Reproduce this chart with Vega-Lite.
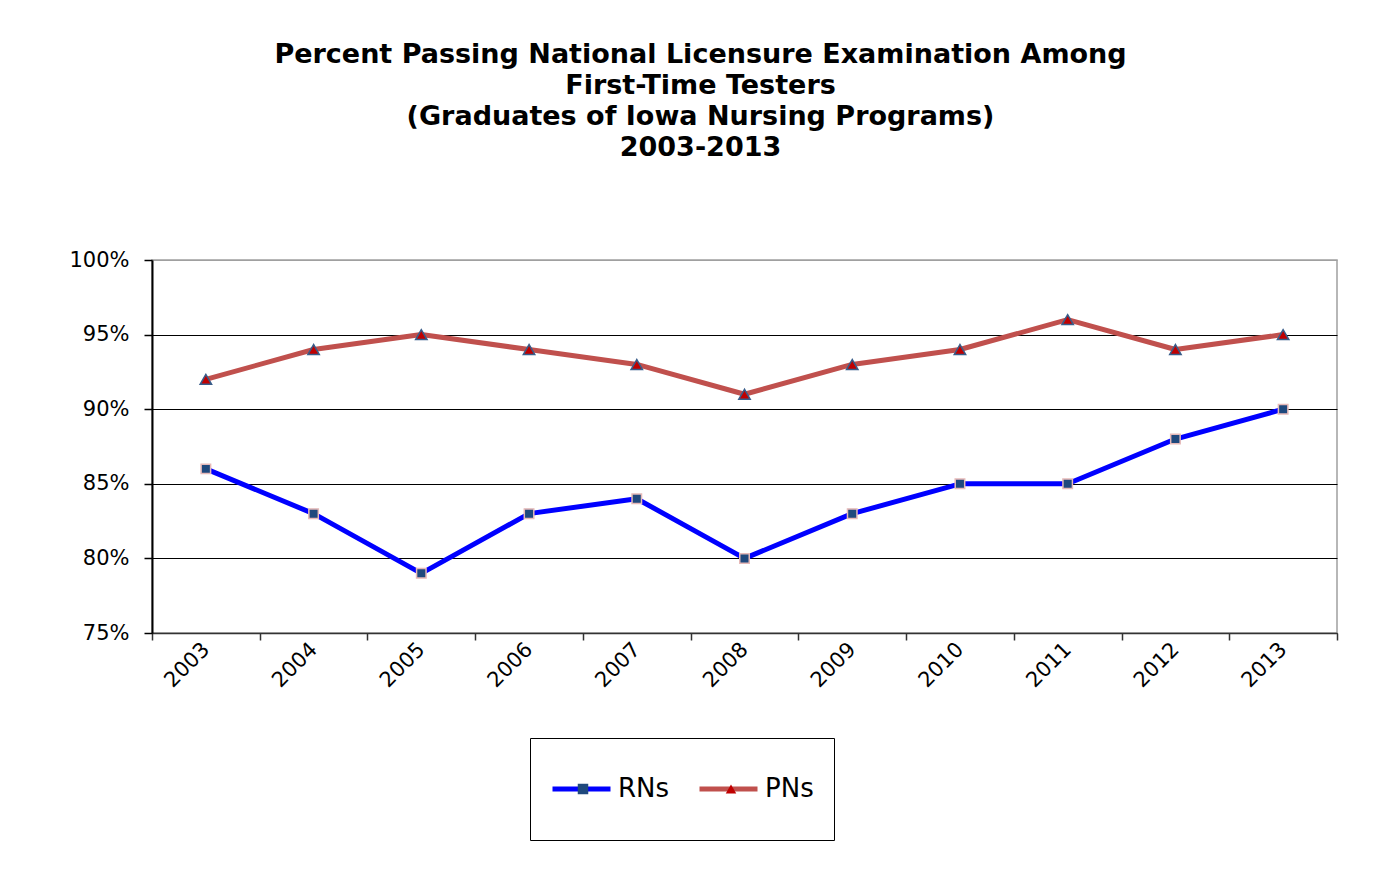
{
  "$schema": "https://vega.github.io/schema/vega-lite/v6.json",
  "width": 1185,
  "height": 373,
  "autosize": {"type": "none"},
  "padding": {"left": 152, "top": 260, "right": 45, "bottom": 243},
  "background": "white",
  "config": {
    "view": {"stroke": "#a0a0a0", "strokeWidth": 1.5},
    "font": "DejaVu Sans"
  },
  "title": {
    "text": ["Percent Passing National Licensure Examination Among", "First-Time Testers", "(Graduates of Iowa Nursing Programs)", "2003-2013"],
    "font": "DejaVu Sans",
    "fontSize": 27,
    "fontWeight": "bold",
    "lineHeight": 31,
    "color": "black",
    "anchor": "middle",
    "dx": -44,
    "offset": 87
  },
  "data": {
    "values": [
      {"year": "2003", "series": "RNs", "pct": 0.86},
      {"year": "2004", "series": "RNs", "pct": 0.83},
      {"year": "2005", "series": "RNs", "pct": 0.79},
      {"year": "2006", "series": "RNs", "pct": 0.83},
      {"year": "2007", "series": "RNs", "pct": 0.84},
      {"year": "2008", "series": "RNs", "pct": 0.80},
      {"year": "2009", "series": "RNs", "pct": 0.83},
      {"year": "2010", "series": "RNs", "pct": 0.85},
      {"year": "2011", "series": "RNs", "pct": 0.85},
      {"year": "2012", "series": "RNs", "pct": 0.88},
      {"year": "2013", "series": "RNs", "pct": 0.90},
      {"year": "2003", "series": "PNs", "pct": 0.92},
      {"year": "2004", "series": "PNs", "pct": 0.94},
      {"year": "2005", "series": "PNs", "pct": 0.95},
      {"year": "2006", "series": "PNs", "pct": 0.94},
      {"year": "2007", "series": "PNs", "pct": 0.93},
      {"year": "2008", "series": "PNs", "pct": 0.91},
      {"year": "2009", "series": "PNs", "pct": 0.93},
      {"year": "2010", "series": "PNs", "pct": 0.94},
      {"year": "2011", "series": "PNs", "pct": 0.96},
      {"year": "2012", "series": "PNs", "pct": 0.94},
      {"year": "2013", "series": "PNs", "pct": 0.95}
    ]
  },
  "encoding": {
    "x": {
      "field": "year",
      "type": "ordinal",
      "bandPosition": 0.5,
      "scale": {"type": "band", "paddingInner": 0, "paddingOuter": 0},
      "axis": {
        "title": null,
        "labelAngle": -45,
        "labelAlign": "right",
        "labelBaseline": "middle",
        "labelFont": "DejaVu Sans",
        "labelFontSize": 21,
        "labelColor": "black",
        "labelPadding": 6,
        "tickBand": "extent",
        "tickSize": 7,
        "tickColor": "#333333",
        "tickWidth": 1.5,
        "domainColor": "#333333",
        "domainWidth": 1.5,
        "grid": false
      }
    },
    "y": {
      "field": "pct",
      "type": "quantitative",
      "scale": {"domain": [0.75, 1.0], "nice": false, "zero": false},
      "axis": {
        "title": null,
        "format": ".0%",
        "values": [0.75, 0.8, 0.85, 0.9, 0.95, 1.0],
        "labelFont": "DejaVu Sans",
        "labelFontSize": 21,
        "labelColor": "black",
        "labelPadding": 15,
        "tickSize": 8,
        "tickColor": "black",
        "tickWidth": 1.5,
        "domainColor": "black",
        "domainWidth": 2,
        "grid": true,
        "gridWidth": 1.2,
        "gridColor": {"condition": {"test": "datum.value >= 0.999", "value": "#a0a0a0"}, "value": "black"}
      }
    }
  },
  "layer": [
    {
      "mark": {"type": "line", "strokeWidth": 5, "strokeCap": "round", "strokeJoin": "round"},
      "encoding": {
        "stroke": {
          "field": "series",
          "type": "nominal",
          "sort": ["RNs", "PNs"],
          "scale": {"range": ["#0000FF", "#C0504D"]},
          "legend": {
            "orient": "none",
            "legendX": 378,
            "legendY": 478,
            "direction": "horizontal",
            "title": null,
            "symbolType": "stroke",
            "symbolSize": 3364,
            "symbolStrokeWidth": 5,
            "labelFont": "DejaVu Sans",
            "labelFontSize": 26,
            "labelColor": "black",
            "labelOffset": 5,
            "columnPadding": 27,
            "padding": 20,
            "clipHeight": 62,
            "strokeColor": "black",
            "fillColor": "white",
            "zindex": 1,
            "encode": {"legend": {"strokeWidth": {"value": 1.5}}}
          }
        }
      }
    },
    {
      "transform": [{"filter": "datum.series === 'RNs'"}],
      "mark": {"type": "point", "filled": true, "opacity": 1, "size": 90, "stroke": "#E6B9B8", "strokeWidth": 1.5},
      "encoding": {
        "shape": {
          "field": "series", "type": "nominal",
          "scale": {"domain": ["RNs", "PNs"], "range": ["square", "triangle-up"]},
          "legend": {
            "orient": "none",
            "legendX": 398,
            "legendY": 478,
            "direction": "horizontal",
            "title": null,
            "symbolSize": 110,
            "symbolStrokeWidth": 1.5,
            "symbolStrokeColor": "#4A5F8A",
            "symbolOpacity": 1,
            "labelFont": "DejaVu Sans",
            "labelFontSize": 26,
            "labelOpacity": 0,
            "labelExpr": "' '",
            "labelOffset": 95,
            "columnPadding": 27,
            "padding": 20,
            "clipHeight": 62,
            "zindex": 2
          }
        },
        "fill": {
          "field": "series", "type": "nominal",
          "scale": {"domain": ["RNs", "PNs"], "range": ["#1F497D", "#C00000"]},
          "legend": {
            "orient": "none",
            "legendX": 398,
            "legendY": 478,
            "direction": "horizontal",
            "title": null,
            "symbolSize": 110,
            "symbolStrokeWidth": 1.5,
            "symbolStrokeColor": "#4A5F8A",
            "symbolOpacity": 1,
            "labelFont": "DejaVu Sans",
            "labelFontSize": 26,
            "labelOpacity": 0,
            "labelExpr": "' '",
            "labelOffset": 95,
            "columnPadding": 27,
            "padding": 20,
            "clipHeight": 62,
            "zindex": 2
          }
        }
      }
    },
    {
      "transform": [{"filter": "datum.series === 'PNs'"}],
      "mark": {"type": "point", "filled": true, "opacity": 1, "size": 130, "stroke": "#385D8A", "strokeWidth": 1.5},
      "encoding": {
        "shape": {"field": "series", "type": "nominal"},
        "fill": {"field": "series", "type": "nominal"}
      }
    }
  ]
}
